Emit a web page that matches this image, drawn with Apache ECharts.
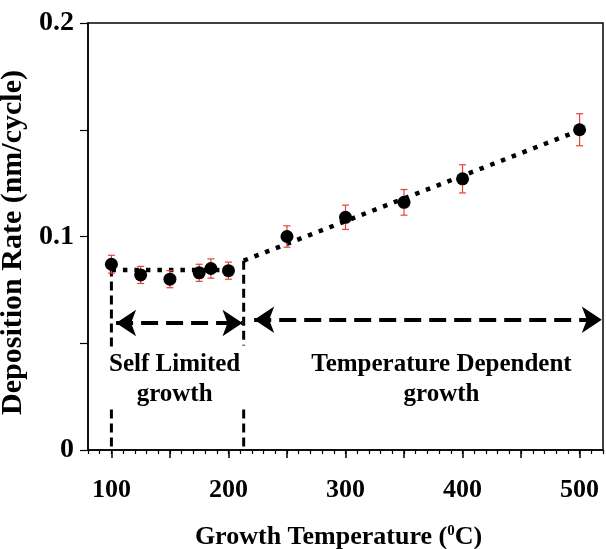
<!DOCTYPE html>
<html><head><meta charset="utf-8">
<script src="https://cdn.jsdelivr.net/npm/echarts@6/dist/echarts.min.js"></script>
<style>html,body{margin:0;padding:0;background:#fff}#c{width:606px;height:549px}</style>
</head><body><div id="c"></div>
<script>
// Data
const temps = [100, 125, 150, 175, 185, 200, 250, 300, 350, 400, 500];
const rates = [0.087, 0.082, 0.080, 0.083, 0.085, 0.084, 0.100, 0.109, 0.116, 0.127, 0.150];
const errs  = [0.0042, 0.004, 0.004, 0.004, 0.0045, 0.004, 0.005, 0.0057, 0.006, 0.0066, 0.0075];
const fitSelf = [[100, 0.0843], [206, 0.0843]];
const fitTemp = [[213, 0.0887], [500, 0.1497]];
const divLeft = [[100, 0.0855], [100, 0.048]];
const divRight = [[213, 0.0887], [213, 0.049]];
const divLeftLow = [[100, 0.019], [100, 0]];
const divRightLow = [[213, 0.019], [213, 0]];
const arrowSelf = [[104, 0.0595], [212, 0.0595]];
const arrowTemp = [[222, 0.061], [519, 0.061]];
const xTickLabels = [100, 200, 300, 400, 500];
const xMajorTicks = [100, 150, 200, 250, 300, 350, 400, 450, 500];
const yTickLabels = [0, 0.1, 0.2];
const notes = [
  {x: 154, y: 0.0400, text: 'Self Limited'},
  {x: 154, y: 0.0262, text: 'growth'},
  {x: 382, y: 0.0400, text: 'Temperature Dependent'},
  {x: 382, y: 0.0262, text: 'growth'}
];

const FONT = 'Liberation Serif';
const XMIN = 80, XMAX = 520;
const chart = echarts.init(document.getElementById('c'), null, {renderer: 'canvas'});
const dotted = {color: '#000', width: 4.5, type: [4.5, 7], cap: 'butt'};
const dashedV = {color: '#000', width: 3, type: [9, 5]};
function lineSeries(data, style) {
  return {type: 'line', data: data, symbol: 'none', lineStyle: style, silent: true, z: 3, animation: false};
}
function arrowSeries(pts) {
  return {
    type: 'line', data: [], symbol: 'none', animation: false,
    markLine: {
      silent: true, animation: false,
      symbol: ['arrow', 'arrow'], symbolSize: [20, 20], symbolOffset: 0,
      label: {show: false},
      lineStyle: {color: '#000', width: 4, type: [17, 8], opacity: 1},
      itemStyle: {color: '#000', opacity: 1},
      data: [[{coord: pts[0]}, {coord: pts[1]}]]
    }
  };
}
const option = {
  animation: false,
  grid: {left: 88, right: 3, top: 23, bottom: 99, containLabel: false, outerBoundsMode: 'none',
    show: true, borderColor: '#000', borderWidth: 1.5, backgroundColor: 'transparent'},
  xAxis: [{
    type: 'value', min: XMIN, max: XMAX, interval: 10,
    axisLine: {lineStyle: {color: '#000', width: 1.5}},
    axisTick: {show: true, length: 4, lineStyle: {color: '#000', width: 1.2}},
    splitLine: {show: false},
    axisLabel: {show: true, formatter: () => ''},
    name: 'Growth Temperature ({sup|0}C)', nameLocation: 'middle', nameGap: 74,
    nameTextStyle: {color: '#000', fontFamily: FONT, fontWeight: 'bold', fontSize: 26, padding: [0, 14, 0, 0],
      rich: {sup: {fontFamily: FONT, fontWeight: 'bold', fontSize: 15, padding: [0, 0, 12, 0]}}}
  }, {
    type: 'value', min: XMIN, max: XMAX, position: 'bottom',
    axisLine: {show: false}, splitLine: {show: false}, axisLabel: {show: false},
    axisTick: {show: true, length: 8, customValues: xMajorTicks, lineStyle: {color: '#000', width: 1.5}}
  }, {
    type: 'value', min: XMIN, max: XMAX, position: 'bottom',
    axisLine: {show: false}, splitLine: {show: false}, axisTick: {show: false},
    axisLabel: {
      show: true, margin: 27, color: '#000', fontFamily: FONT, fontWeight: 'bold', fontSize: 26,
      customValues: xTickLabels,
      formatter: v => String(Math.round(v))
    }
  }],
  yAxis: {
    type: 'value', min: 0, max: 0.2, interval: 0.05,
    axisLine: {show: true, lineStyle: {color: '#000', width: 1.5}},
    axisTick: {show: true, length: 8, lineStyle: {color: '#000', width: 1.2}},
    splitLine: {show: false},
    axisLabel: {
      margin: 14, color: '#000', fontFamily: FONT, fontWeight: 'bold', fontSize: 28,
      formatter: v => {
        for (const t of yTickLabels) if (Math.abs(v - t) < 1e-9) return String(t);
        return '';
      }
    },
    name: 'Deposition Rate (nm/cycle)', nameLocation: 'middle', nameGap: 50,
    nameTextStyle: {color: '#000', fontFamily: FONT, fontWeight: 'bold', fontSize: 30, padding: [0, 12, 0, 0]}
  },
  series: [
    lineSeries(fitSelf, dotted),
    lineSeries(fitTemp, dotted),
    lineSeries(divLeft, dashedV),
    lineSeries(divRight, dashedV),
    lineSeries(divLeftLow, dashedV),
    lineSeries(divRightLow, dashedV),
    arrowSeries(arrowSelf),
    arrowSeries(arrowTemp),
    {
      type: 'custom', z: 4, silent: true, animation: false,
      data: temps.map((t, i) => [t, rates[i] - errs[i], rates[i] + errs[i]]),
      renderItem: function (params, api) {
        const lo = api.coord([api.value(0), api.value(1)]);
        const hi = api.coord([api.value(0), api.value(2)]);
        const w = 3.5;
        const st = {stroke: '#e8413a', lineWidth: 1.2};
        return {type: 'group', children: [
          {type: 'line', shape: {x1: lo[0], y1: lo[1], x2: hi[0], y2: hi[1]}, style: st},
          {type: 'line', shape: {x1: lo[0] - w, y1: lo[1], x2: lo[0] + w, y2: lo[1]}, style: st},
          {type: 'line', shape: {x1: hi[0] - w, y1: hi[1], x2: hi[0] + w, y2: hi[1]}, style: st}
        ]};
      }
    },
    {
      type: 'scatter', z: 5, silent: true, animation: false,
      data: temps.map((t, i) => [t, rates[i]]),
      symbol: 'circle', symbolSize: 13, itemStyle: {color: '#000', opacity: 1}
    },
    {
      type: 'scatter', z: 6, silent: true, animation: false,
      data: notes.map(n => ({value: [n.x, n.y], name: n.text})),
      symbolSize: 1, itemStyle: {color: 'rgba(0,0,0,0)', opacity: 1},
      label: {show: true, position: 'inside', formatter: p => p.name, color: '#000', opacity: 1,
        fontFamily: FONT, fontWeight: 'bold', fontSize: 25}
    }
  ]
};
chart.setOption(option);
</script></body></html>
